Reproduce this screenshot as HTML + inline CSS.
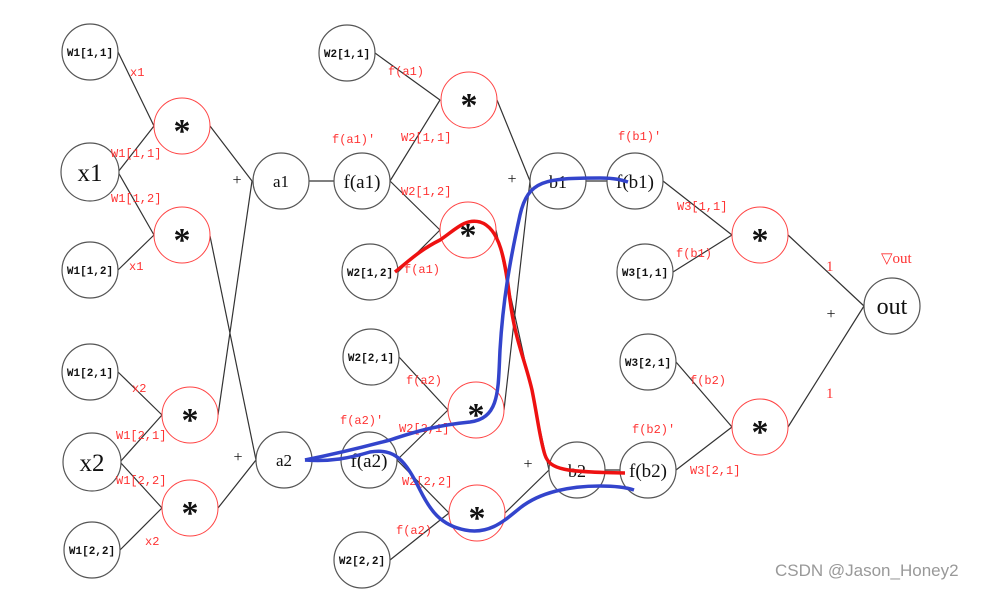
<!DOCTYPE html>
<html><head><meta charset="utf-8"><style>
html,body{margin:0;padding:0;background:#fff;}
svg{display:block;}
.n{fill:#fff;stroke:#555;stroke-width:1.2}
.m{fill:#fff;stroke:#f44;stroke-width:1}
.l{stroke:#333;stroke-width:1.2;fill:none}
.t{font-family:"Liberation Serif",serif;fill:#111;text-anchor:middle}
.s{font-family:"Liberation Mono",monospace;font-size:11px;font-weight:bold;fill:#111;text-anchor:middle}
.r{font-family:"Liberation Mono",monospace;font-size:12px;fill:#f33}
</style></head><body>
<svg width="986" height="591" viewBox="0 0 986 591" xmlns="http://www.w3.org/2000/svg">
<g class="l">
<path d="M118,52 L154,126 M118,172 L154,126 M118,172 L154,235 M118,270 L154,235"/>
<path d="M118,372 L162,415 M120,462 L162,415 M120,462 L162,508 M120,550 L162,508"/>
<path d="M210,126 L252,181 M210,236 L256,460 M218,415 L252,181 M218,508 L256,460"/>
<path d="M309,181 L334,181 M312,460 L341,460"/>
<path d="M375,53 L440,100 M390,181 L440,100 M390,181 L440,230 M398,272 L440,230"/>
<path d="M399,357 L448,410 M397,460 L448,410 M397,460 L449,513 M390,560 L449,513"/>
<path d="M497,100 L530,181 M496,230 L549,470 M504,410 L530,181 M505,513 L549,470"/>
<path d="M586,181 L607,181 M605,470 L620,470"/>
<path d="M663,181 L732,235 M673,272 L732,235 M676,362 L732,427 M676,470 L732,427"/>
<path d="M788,235 L864,306 M788,427 L864,306"/>
</g>
<g class="n">
<circle cx="90" cy="52" r="28"/><circle cx="90" cy="172" r="29"/><circle cx="90" cy="270" r="28"/>
<circle cx="90" cy="372" r="28"/><circle cx="92" cy="462" r="29"/><circle cx="92" cy="550" r="28"/>
<circle cx="281" cy="181" r="28"/><circle cx="284" cy="460" r="28"/>
<circle cx="362" cy="181" r="28"/><circle cx="369" cy="460" r="28"/>
<circle cx="347" cy="53" r="28"/><circle cx="370" cy="272" r="28"/><circle cx="371" cy="357" r="28"/><circle cx="362" cy="560" r="28"/>
<circle cx="558" cy="181" r="28"/><circle cx="577" cy="470" r="28"/>
<circle cx="635" cy="181" r="28"/><circle cx="648" cy="470" r="28"/>
<circle cx="645" cy="272" r="28"/><circle cx="648" cy="362" r="28"/>
<circle cx="892" cy="306" r="28"/>
</g>
<g class="m">
<circle cx="182" cy="126" r="28"/><circle cx="182" cy="235" r="28"/><circle cx="190" cy="415" r="28"/><circle cx="190" cy="508" r="28"/>
<circle cx="469" cy="100" r="28"/><circle cx="468" cy="230" r="28"/><circle cx="476" cy="410" r="28"/><circle cx="477" cy="513" r="28"/>
<circle cx="760" cy="235" r="28"/><circle cx="760" cy="427" r="28"/>
</g>
<g class="s">
<text x="90" y="56">W1[1,1]</text><text x="90" y="274">W1[1,2]</text><text x="90" y="376">W1[2,1]</text><text x="92" y="554">W1[2,2]</text>
<text x="347" y="57">W2[1,1]</text><text x="370" y="276">W2[1,2]</text><text x="371" y="361">W2[2,1]</text><text x="362" y="564">W2[2,2]</text>
<text x="645" y="276">W3[1,1]</text><text x="648" y="366">W3[2,1]</text>
</g>
<g class="t">
<text x="90" y="181" font-size="25">x1</text><text x="92" y="471" font-size="25">x2</text>
<text x="281" y="187" font-size="17">a1</text><text x="284" y="466" font-size="17">a2</text>
<text x="362" y="188" font-size="19">f(a1)</text><text x="369" y="467" font-size="19">f(a2)</text>
<text x="558" y="188" font-size="18">b1</text><text x="577" y="477" font-size="18">b2</text>
<text x="635" y="188" font-size="19">f(b1)</text><text x="648" y="477" font-size="19">f(b2)</text>
<text x="892" y="314" font-size="24">out</text>
<g font-size="34" font-weight="bold"><text x="182" y="142">*</text><text x="182" y="251">*</text><text x="190" y="431">*</text><text x="190" y="524">*</text>
<text x="469" y="116">*</text><text x="468" y="246">*</text><text x="476" y="426">*</text><text x="477" y="529">*</text>
<text x="760" y="251">*</text><text x="760" y="443">*</text></g>
<g font-size="16"><text x="237" y="185">+</text><text x="238" y="462">+</text><text x="512" y="184">+</text><text x="528" y="469">+</text><text x="831" y="319">+</text></g>
</g>
<g class="r">
<text x="130" y="76">x1</text><text x="111" y="157">W1[1,1]</text><text x="111" y="202">W1[1,2]</text><text x="129" y="270">x1</text>
<text x="132" y="392">x2</text><text x="116" y="439">W1[2,1]</text><text x="116" y="484">W1[2,2]</text><text x="145" y="545">x2</text>
<text x="332" y="143">f(a1)'</text><text x="388" y="75">f(a1)</text><text x="401" y="141">W2[1,1]</text><text x="401" y="195">W2[1,2]</text><text x="404" y="273">f(a1)</text>
<text x="406" y="384">f(a2)</text><text x="340" y="424">f(a2)'</text><text x="399" y="432">W2[2,1]</text><text x="402" y="485">W2[2,2]</text><text x="396" y="534">f(a2)</text>
<text x="618" y="140">f(b1)'</text><text x="677" y="210">W3[1,1]</text><text x="676" y="257">f(b1)</text>
<text x="690" y="384">f(b2)</text><text x="632" y="433">f(b2)'</text><text x="690" y="474">W3[2,1]</text>
<text x="881" y="263" font-size="15" font-family="Liberation Serif,serif">▽out</text>
<text x="826" y="271" font-size="15" font-family="Liberation Serif,serif">1</text>
<text x="826" y="398" font-size="15" font-family="Liberation Serif,serif">1</text>
</g>
<path d="M395,272 C410,260 420,250 440,240 C455,230 465,218 480,222 C500,228 505,260 510,300 C515,340 525,360 532,390 C538,420 540,440 545,455 C550,470 565,472 625,473" fill="none" stroke="#e11" stroke-width="3.5"/>
<path d="M305,460 C330,455 360,448 390,440 C420,430 440,425 470,422 C500,418 498,390 500,350 C503,300 510,260 520,215 C528,180 545,178 600,178 C615,178 622,180 628,182" fill="none" stroke="#3344cc" stroke-width="3.5"/>
<path d="M305,460 C330,462 350,458 370,452 C395,448 405,460 420,490 C430,510 440,525 465,530 C490,535 505,520 520,508 C540,492 570,486 600,486 C615,486 625,487 634,490" fill="none" stroke="#3344cc" stroke-width="3.5"/>
<text x="775" y="576" font-family="Liberation Sans,sans-serif" font-size="17" fill="#999">CSDN @Jason_Honey2</text>
</svg>
</body></html>
